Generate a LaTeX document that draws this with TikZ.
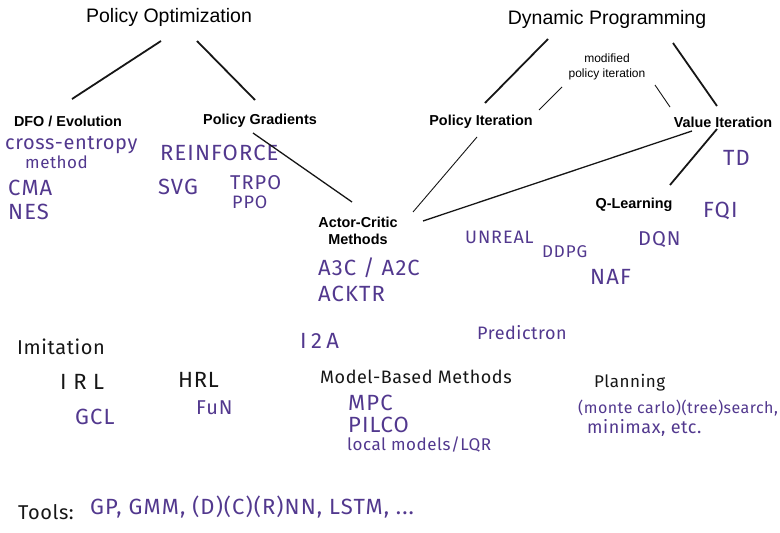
\documentclass[tikz,border=0pt]{standalone}
\usepackage{fontspec}
\setmainfont{Liberation Sans}
\newfontfamily\handfont{Fira Sans}[LetterSpace=3]
\newfontfamily\handcaps{Fira Sans}[LetterSpace=5]
\usetikzlibrary{positioning,calc}
\definecolor{InkPurple}{RGB}{82,56,142}
\definecolor{InkBlack}{RGB}{22,22,22}
\tikzset{
  family/.style={font=\fontsize{19.5}{22}\selectfont,inner sep=1pt},
  branch/.style={font=\bfseries\fontsize{14.4}{17}\selectfont,inner sep=1pt,align=center},
  note/.style={font=\fontsize{12}{15}\selectfont,inner sep=1pt,align=center},
  ink/.style={text=InkPurple,inner sep=0pt,anchor=west},
  caps/.style={ink,font=\handcaps\fontsize{#1}{#1}\selectfont},
  caps/.default=22,
  words/.style={ink,font=\handfont\fontsize{#1}{#1}\selectfont},
  words/.default=18,
  topic/.style={words=#1,text=InkBlack},
  topic/.default=18,
  link/.style={line width=1.8pt,draw=InkBlack},
  midlink/.style={line width=1.3pt,draw=InkBlack},
  thinlink/.style={line width=0.9pt,draw=InkBlack}
}
\begin{document}
\begin{tikzpicture}[x=1pt,y=-1pt]
\useasboundingbox (0,0) rectangle (780,533);
% families
\node[family] (po) at (169,17) {Policy Optimization};
\node[family] (dp) at (607,19) {Dynamic Programming};
% branches
\node[branch] (dfo) at (68,121) {DFO / Evolution};
\node[branch] (pg) at (260,121) {Policy Gradients};
\node[branch] (pi) at (481,122) {Policy Iteration};
\node[branch] (vi) at (723,122) {Value Iteration};
\node[note] (mpi) at (607,67) {modified\\policy iteration};
\node[branch] (ac) at (358,231) {Actor-Critic\\Methods};
\node[branch] (ql) at (634,205) {Q-Learning};

% handwritten algorithms
\node[words=20] (cem) at (5,145) {cross-entropy};
\node[words=17] (cemb) at (25,162) {method};
\node[caps] (cma) at (8,188) {CMA};
\node[caps] (nes) at (8,212) {NES};
\node[caps] (rf) at (160,153) {REINFORCE};
\node[caps] (svg) at (158,187) {SVG};
\node[caps=20] (trpo) at (230,183) {TRPO};
\node[caps=18] (ppo) at (232,202) {PPO};
\node[caps] (a3c) at (318,268) {A3C / A2C};
\node[caps] (acktr) at (318,294) {ACKTR};
\node[caps] (td) at (723,158) {TD};
\node[caps] (fqi) at (703,211) {FQI};
\node[caps=20] (dqn) at (638,240) {DQN};
\node[caps=18] (unreal) at (465,237) {UNREAL};
\node[caps=17] (ddpg) at (542,252) {DDPG};
\node[caps] (naf) at (590,277) {NAF};

% other topics
\node[topic=20] (imit) at (17,347) {Imitation};
\node[topic=22] (irl) at (60,382) {\addfontfeature{LetterSpace=30}IRL};
\node[caps] (gcl) at (75,417) {GCL};
\node[topic=22] (hrl) at (178,380) {HRL};
\node[caps=20] (fun) at (196,408) {FuN};
\node[caps] (i2a) at (300,341) {\addfontfeature{LetterSpace=20}I2A};
\node[topic] (mb) at (320,377) {Model-Based Methods};
\node[caps] (mpc) at (348,403) {MPC};
\node[caps] (pilco) at (348,425) {PILCO};
\node[words=17] (lqr) at (347,445) {local models/LQR};
\node[words] (pred) at (477,333) {Predictron};
\node[topic=17] (plan) at (594,383) {Planning};
\node[words=16] (mcts) at (578,408) {(monte carlo)(tree)search,};
\node[words=18] (minimax) at (587,428) {minimax, etc.};
\node[topic=20] (tools) at (18,512) {Tools:};
\node[caps] (toollist) at (90,507) {GP, GMM, (D)(C)(R)NN, LSTM, ...};

% connectors
\draw[link] ($(po)+(-8,24)$) -- ($(dfo)+(4,-22)$);
\draw[link] ($(po)+(28,24)$) -- ($(pg)+(-5,-21)$);
\draw[midlink] ($(pg)+(-7,12)$) -- ($(ac)+(-6,-29)$);
\draw[link] ($(dp)+(-59,20)$) -- ($(pi)+(4,-19)$);
\draw[link] ($(dp)+(66,24)$) -- ($(vi)+(-6,-16)$);
\draw[thinlink] ($(mpi)+(-45,20)$) -- ($(pi)+(58,-12)$);
\draw[thinlink] ($(mpi)+(48,18)$) -- ($(vi)+(-53,-15)$);
\draw[thinlink] ($(pi)+(-4,15)$) -- ($(ac)+(55,-19)$);
\draw[midlink] ($(vi)+(-31,9)$) -- ($(ac)+(65,-10)$);
\draw[link] ($(vi)+(-6,7)$) -- ($(ql)+(36,-20)$);
\end{tikzpicture}
\end{document}
